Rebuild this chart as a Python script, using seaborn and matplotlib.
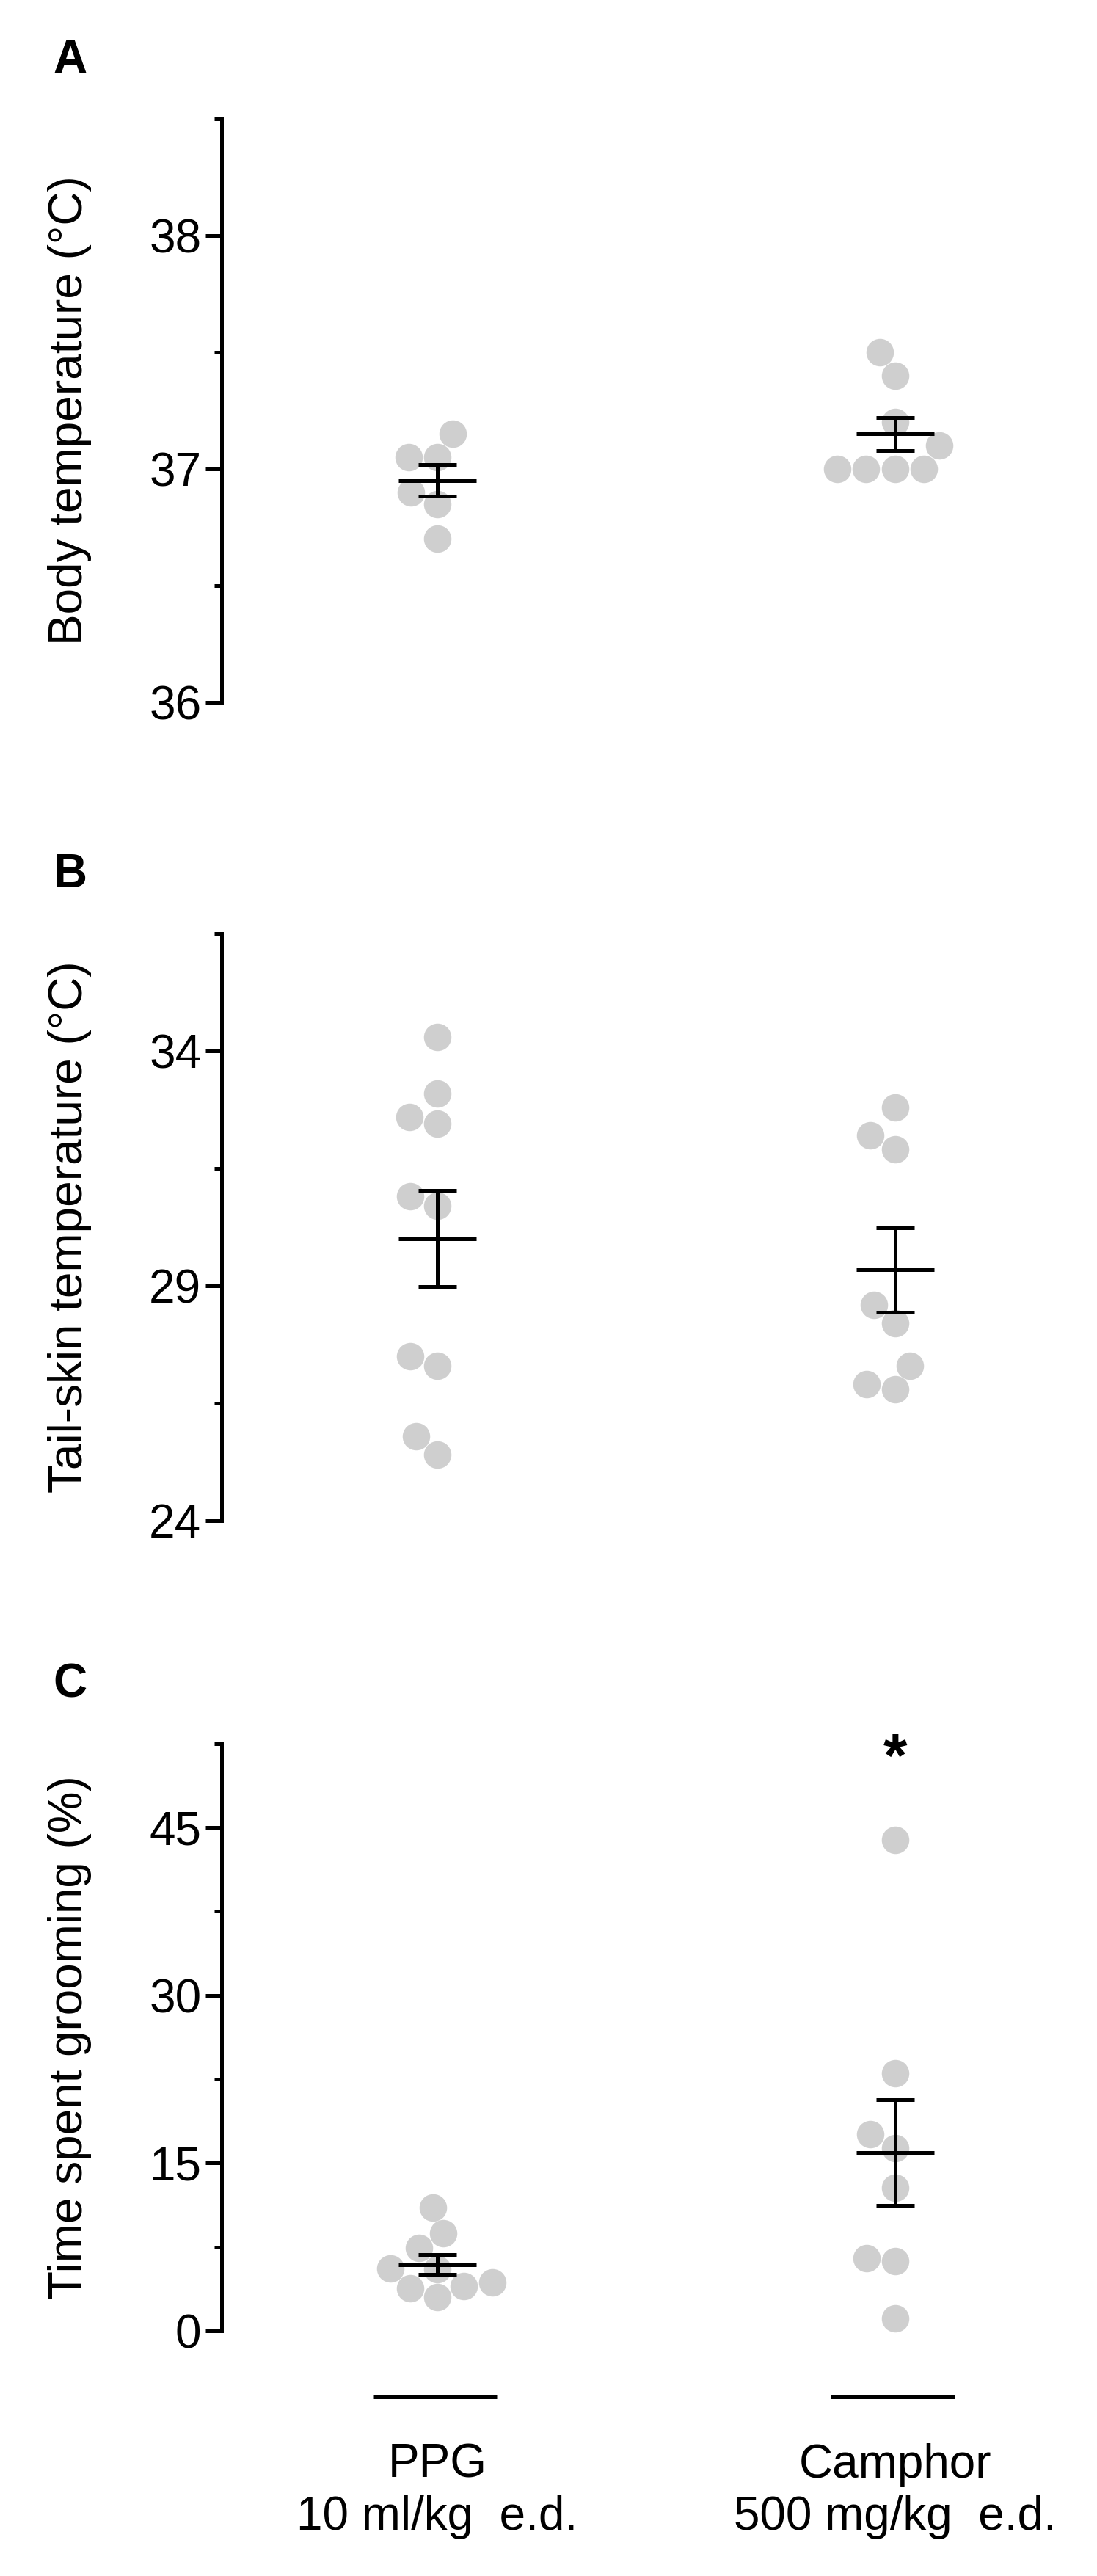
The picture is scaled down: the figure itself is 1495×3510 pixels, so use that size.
import numpy as np
import pandas as pd
import seaborn as sns
import matplotlib.pyplot as plt

# --- DATA ---
groups = ["PPG\n10 ml/kg  e.d.", "Camphor\n500 mg/kg  e.d."]

body_ppg = [37.15, 37.05, 37.05, 36.9, 36.85, 36.7]
body_cam = [37.5, 37.4, 37.2, 37.1, 37.0, 37.0, 37.0, 37.0]

tail_ppg = [34.3, 33.1, 32.6, 32.45, 30.9, 30.7, 27.5, 27.3, 25.8, 25.4]
tail_cam = [32.8, 32.2, 31.9, 28.6, 28.2, 27.3, 26.9, 26.8]

groom_ppg = [11.0, 8.7, 7.4, 5.6, 5.5, 4.3, 4.0, 3.8, 3.0]
groom_cam = [43.9, 23.0, 17.6, 16.3, 12.8, 6.5, 6.2, 1.1]

panels = [
    ("A", "Body temperature (°C)", body_ppg, body_cam, (36, 38.5), [36, 37, 38], [36.5, 37.5, 38.5]),
    ("B", "Tail-skin temperature (°C)", tail_ppg, tail_cam, (24, 36.5), [24, 29, 34], [26.5, 31.5, 36.5]),
    ("C", "Time spent grooming (%)", groom_ppg, groom_cam, (0, 52.5), [0, 15, 30, 45], [7.5, 22.5, 37.5, 52.5]),
]

sns.set_style("white")
plt.rcParams['font.family'] = ['Liberation Sans', 'DejaVu Sans']
plt.rcParams['text.color'] = 'black'
plt.rcParams['axes.labelcolor'] = 'black'
plt.rcParams['xtick.color'] = 'black'
plt.rcParams['ytick.color'] = 'black'
FS = 46
LW = 3.6

fig = plt.figure(figsize=(14.95, 35.1), dpi=100)
rects = [[0.202, 0.7274, 0.788, 0.2265],
         [0.202, 0.4097, 0.788, 0.2279],
         [0.202, 0.0952, 0.788, 0.2279]]

for (letter, ylabel, a, b, ylim, ticks, minors), rect in zip(panels, rects):
    ax = fig.add_axes(rect)
    df = pd.DataFrame({"group": [groups[0]] * len(a) + [groups[1]] * len(b),
                       "value": a + b})
    ax.set_xlim(-0.471, 1.417)
    ax.set_ylim(*ylim)
    sns.swarmplot(data=df, x="group", y="value", order=groups, color="#cfcfcf",
                  size=27, linewidth=0, ax=ax, clip_on=False, warn_thresh=1)
    ax.set_xlim(-0.471, 1.417)
    ax.set_ylim(*ylim)
    for i, vals in enumerate([a, b]):
        v = np.array(vals)
        m = v.mean()
        se = v.std(ddof=1) / np.sqrt(len(v))
        ax.hlines(m, i - 0.085, i + 0.085, color="black", lw=LW, zorder=5)
        ax.errorbar(i, m, yerr=se, color="black", lw=LW, capsize=19,
                    capthick=LW, zorder=5)
    for s in ["top", "right", "bottom"]:
        ax.spines[s].set_visible(False)
    ax.spines["left"].set_linewidth(LW)
    ax.spines["left"].set_color("black")
    ax.set_yticks(ticks)
    ax.set_yticks(minors, minor=True)
    ax.tick_params(axis="y", which="major", length=16, width=LW, labelsize=FS,
                   left=True, pad=4)
    ax.tick_params(axis="y", which="minor", length=7, width=LW, left=True)
    ax.set_ylabel(ylabel, fontsize=FS)
    ax.yaxis.set_label_coords(-0.15, 0.5)
    ax.set_xlabel("")
    ax.text(-0.195, 1.1, letter, transform=ax.transAxes, fontsize=FS,
            fontweight="bold", va="center", ha="left")
    if letter == "C":
        ax.tick_params(axis="x", length=0, labelsize=FS, pad=110)
        for lab in ax.get_xticklabels():
            lab.set_linespacing(1.25)
        for i in range(2):
            ax.hlines(-5.9, i - 0.14, i + 0.13, color="black", lw=LW, clip_on=False)
        ax.text(1, 51, "*", ha="center", va="center", fontsize=60, fontweight="bold")
    else:
        ax.set_xticks([])

fig.savefig("out.png", dpi=100)
